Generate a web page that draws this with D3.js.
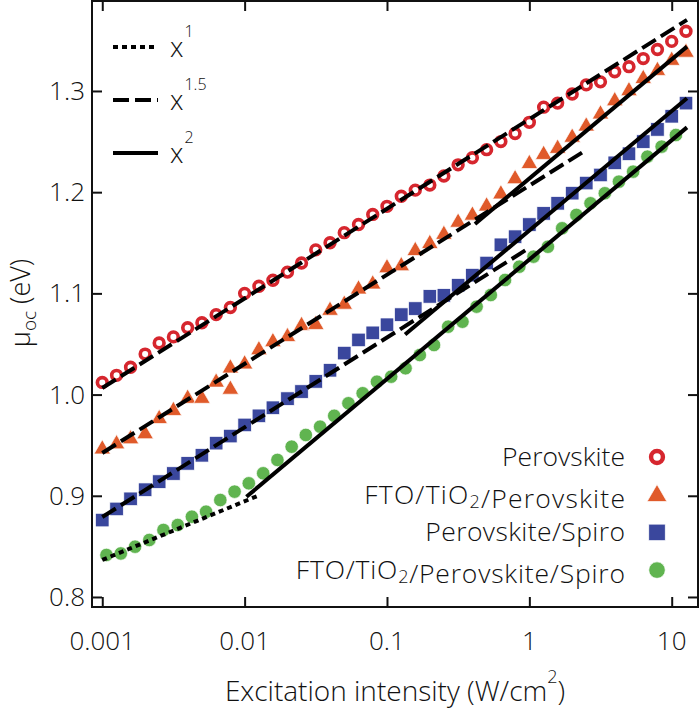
<!DOCTYPE html>
<html><head><meta charset="utf-8">
<script src="https://cdn.jsdelivr.net/npm/d3@7"></script>
<style>
html,body{margin:0;padding:0;background:#fff;}
svg{display:block;}
text{font-family:"Open Sans","Noto Sans",sans-serif;font-weight:300;fill:#111;}
</style></head>
<body>
<svg id="chart" width="700" height="716"></svg>
<script>
// ---- data ----
const intensity = [0.001,0.00126,0.00158,0.002,0.00251,0.00316,0.00398,0.00501,0.00631,0.00794,
  0.01,0.0126,0.0158,0.02,0.0251,0.0316,0.0398,0.0501,0.0631,0.0794,
  0.1,0.126,0.158,0.2,0.251,0.316,0.398,0.501,0.631,0.794,
  1,1.26,1.58,2,2.51,3.16,3.98,5.01,6.31,7.94,10,12.6];
const intensityGreen = [0.00107,0.00135,0.0017,0.00214,0.00269,0.00339,0.00426,0.00536,0.00675,0.0085,
  0.0107,0.0135,0.017,0.0214,0.0269,0.0339,0.0426,0.0536,0.0675,0.085,
  0.107,0.135,0.17,0.214,0.269,0.339,0.426,0.536,0.675,0.85,
  1.07,1.35,1.7,2.14,2.69,3.39,4.26,5.36,6.75,8.5,10.7];
const perovskite = [1.012,1.019,1.027,1.040,1.051,1.057,1.066,1.071,1.079,1.086,
  1.100,1.107,1.113,1.121,1.130,1.143,1.150,1.160,1.168,1.178,
  1.186,1.196,1.202,1.207,1.216,1.227,1.234,1.242,1.250,1.258,
  1.269,1.284,1.288,1.297,1.306,1.309,1.319,1.324,1.332,1.341,1.349,1.359];
const ftoPerovskite = [0.947,0.952,0.957,0.962,0.977,0.985,0.997,0.997,1.013,1.027,
  1.031,1.045,1.053,1.058,1.069,1.070,1.084,1.090,1.105,1.110,
  1.126,1.128,1.143,1.150,1.159,1.171,1.178,1.187,1.199,1.214,
  1.229,1.238,1.244,1.255,1.266,1.278,1.291,1.301,1.313,1.321,1.331,1.339];
const ftoPerovskiteRepeatX = [0.00794];
const ftoPerovskiteRepeat = [1.006];
const perovskiteSpiro = [0.876,0.887,0.897,0.906,0.914,0.922,0.932,0.940,0.952,0.959,
  0.970,0.979,0.987,0.996,1.003,1.013,1.024,1.041,1.054,1.061,
  1.069,1.079,1.085,1.097,1.098,1.108,1.118,1.130,1.148,1.156,
  1.168,1.179,1.189,1.199,1.209,1.217,1.229,1.238,1.250,1.262,1.275,1.288];
const ftoPerovskiteSpiro = [0.8415,0.843,0.8497,0.8563,0.8662,0.8711,0.8793,0.8843,0.8958,0.9041,
  0.9123,0.9222,0.9354,0.9485,0.9601,0.9683,0.979,0.9914,1.0013,1.0127,
  1.0177,1.026,1.0391,1.049,1.0671,1.072,1.0869,1.0984,1.1132,1.1264,
  1.1363,1.1461,1.1643,1.1775,1.189,1.1989,1.2104,1.2203,1.2351,1.245,1.2565];

// power-law guide lines (exponent, start/end intensity, start/end value)
const fitPower = ["1.5","1.5","2","1.5","2","1","2"];
const fitX0 = [0.001,0.001,0.415,0.001,0.134,0.001,0.0103];
const fitX1 = [12.8,2.51,12.8,1.0,12.8,0.0128,12.8];
const fitY0 = [1.0065,0.9423,1.1686,0.879,1.0593,0.8366,0.899];
const fitY1 = [1.3702,1.2417,1.3438,1.145,1.2928,0.9008,1.2640];

const seriesNames = ["Perovskite","FTO/TiO\u2082/Perovskite","Perovskite/Spiro","FTO/TiO\u2082/Perovskite/Spiro"];
const xTicks = [0.001,0.01,0.1,1,10];
const xTickLabels = ["0.001","0.01","0.1","1","10"];
const yTicks = [0.8,0.9,1.0,1.1,1.2,1.3];
const yTickLabels = ["0.8","0.9","1.0","1.1","1.2","1.3"];
const powerLabels = ["1","1.5","2"];

// ---- layout ----
const svg = d3.select("#chart");
const L = 92, R = 698, T = 1, B = 607;
const x = d3.scaleLog().domain([0.000847, 15.3]).range([L, R]);
const y = d3.scaleLinear().domain([0.7901, 1.3889]).range([B, T]);

const colors = ["#d6262e","#e05a2a","#3a479d","#60b450"];
const dashFor = {"1":"5,4","1.5":"16,6","2":null};

// frame
svg.append("rect").attr("x",L).attr("y",T).attr("width",R-L).attr("height",B-T)
  .attr("fill","none").attr("stroke","#111").attr("stroke-width",2);

// ticks (inward, all four sides)
const tl = 10;
const axB = d3.axisBottom(x).tickValues(xTicks).tickSize(-tl).tickFormat("");
const axT = d3.axisTop(x).tickValues(xTicks).tickSize(-tl).tickFormat("");
const axL = d3.axisLeft(y).tickValues(yTicks).tickSize(-tl).tickFormat("");
const axR = d3.axisRight(y).tickValues(yTicks).tickSize(-tl).tickFormat("");
[[axB,`translate(0,${B})`],[axT,`translate(0,${T})`],[axL,`translate(${L},0)`],[axR,`translate(${R},0)`]].forEach(([a,t])=>{
  const g = svg.append("g").attr("transform",t).call(a);
  g.select(".domain").remove();
  g.selectAll(".tick line").attr("stroke","#111").attr("stroke-width",2);
});

// tick labels
svg.append("g").selectAll("text").data(xTicks).join("text")
  .attr("x",d=>x(d)).attr("y",650).attr("text-anchor","middle")
  .attr("font-size",26).text((d,i)=>xTickLabels[i]);
svg.append("g").selectAll("text").data(yTicks).join("text")
  .attr("x",85).attr("y",d=>y(d)+9).attr("text-anchor","end")
  .attr("font-size",26).text((d,i)=>yTickLabels[i]);

// axis titles
const xt = svg.append("text").attr("x",395).attr("y",701).attr("text-anchor","middle").attr("font-size",28);
xt.append("tspan").text("Excitation intensity (W/cm");
xt.append("tspan").attr("dy",-18).attr("font-size",18).text("2");
xt.append("tspan").attr("dy",18).text(")");

const yt = svg.append("text").attr("transform","translate(30,303) rotate(-90)").attr("text-anchor","middle").attr("font-size",27);
yt.append("tspan").text("\u03bc");
yt.append("tspan").attr("dy",6).attr("font-size",19).text("oc");
yt.append("tspan").attr("dy",-6).text(" (eV)");

// ---- markers ----
const plot = svg.append("g");
function drawMarker(g, type, color, s) {
  if (type===0) {
    g.append("circle").attr("r",s*0.36).attr("fill","#fff").attr("stroke",color).attr("stroke-width",s*0.27);
  } else if (type===1) {
    const h = s*0.95, w = s*1.1;
    g.append("path").attr("d",`M0,${-h*0.6}L${w/2},${h*0.4}L${-w/2},${h*0.4}Z`)
      .attr("fill",color).attr("stroke","#fff").attr("stroke-width",0.7);
  } else if (type===2) {
    g.append("rect").attr("x",-s/2).attr("y",-s/2).attr("width",s).attr("height",s)
      .attr("fill",color).attr("stroke","#fff").attr("stroke-width",0.7);
  } else {
    g.append("circle").attr("r",s/2).attr("fill",color).attr("stroke","#fff").attr("stroke-width",0.7);
  }
}
const seriesData = [
  [intensity, perovskite],
  [intensity, ftoPerovskite],
  [intensity, perovskiteSpiro],
  [intensityGreen, ftoPerovskiteSpiro]
];
[3,2,1,0].forEach(si=>{
  const [xs, ys] = seriesData[si];
  ys.forEach((v,i)=>{
    const g = plot.append("g").attr("transform",`translate(${x(xs[i])},${y(v)})`);
    drawMarker(g, si, colors[si], si===1?15:13.5);
  });
  if (si===1) {
    ftoPerovskiteRepeat.forEach((v,i)=>{
      const g = plot.append("g").attr("transform",`translate(${x(ftoPerovskiteRepeatX[i])},${y(v)})`);
      drawMarker(g, 1, colors[1], 15);
    });
  }
});

// ---- guide lines ----
const line = d3.line().x(d=>x(d[0])).y(d=>y(d[1]));
fitPower.forEach((p,i)=>{
  svg.append("path").datum([[fitX0[i],fitY0[i]],[fitX1[i],fitY1[i]]])
    .attr("d",line).attr("fill","none").attr("stroke","#000").attr("stroke-width",4)
    .attr("stroke-dasharray",dashFor[p]);
});

// ---- legend: power laws ----
const lg = svg.append("g");
powerLabels.forEach((p,i)=>{
  const yy = 47 + i*53;
  lg.append("line").attr("x1",113).attr("x2",158).attr("y1",yy).attr("y2",yy)
    .attr("stroke","#000").attr("stroke-width",4).attr("stroke-dasharray",dashFor[p]);
  const t = lg.append("text").attr("x",170).attr("y",yy+10).attr("font-size",27);
  t.append("tspan").text("x");
  t.append("tspan").attr("dy",-20).attr("dx",1).attr("font-size",16).text(p);
});

// ---- legend: series ----
const sl = svg.append("g");
const legendTargetWidth = [123, 262, 200, 330];
seriesNames.forEach((n,i)=>{
  const yy = 457 + i*37.7;
  const parts = n.split("\u2082");
  const t = sl.append("text").attr("x",625).attr("y",yy+9).attr("text-anchor","end").attr("font-size",26.5);
  parts.forEach((p,j)=>{
    t.append("tspan").text(p);
    if (j<parts.length-1) {
      t.append("tspan").attr("dy",4).attr("font-size",18).text("2");
      t.append("tspan").attr("dy",-4).text("");
    }
  });
  // widen letter spacing slightly to match the reference text widths
  const w = t.node().getComputedTextLength();
  const nch = n.length;
  const ls = (legendTargetWidth[i] - w) / nch;
  if (ls > 0) t.attr("letter-spacing", ls.toFixed(2)).attr("x", 625 + ls);
  const g = sl.append("g").attr("transform",`translate(657,${yy})`);
  drawMarker(g, i, colors[i], i===1?18:16.5);
});
</script>
</body></html>
